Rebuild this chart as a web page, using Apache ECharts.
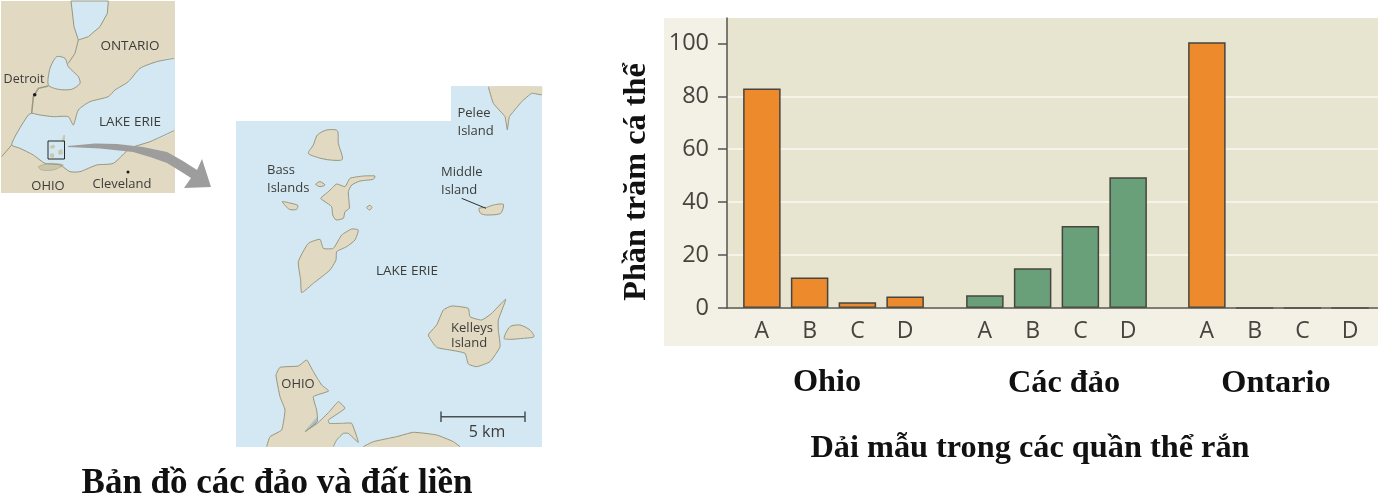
<!DOCTYPE html>
<html><head><meta charset="utf-8">
<style>html,body{margin:0;padding:0;background:#fff}#c{width:1378px;height:498px}</style>
<script src="https://cdn.jsdelivr.net/npm/echarts@6/dist/echarts.min.js"></script></head>
<body><div id="c"></div>
<script>
// ---- chart data ----
const bands = ['A', 'B', 'C', 'D'];
const ohioValues = [83, 11.5, 2.2, 4.3];
const islandValues = [4.8, 15, 31, 49.4];
const ontarioValues = [100.4, 0, 0, 0];
const yTickLabels = [0, 20, 40, 60, 80, 100];
const groupNames = ['Ohio', 'Các đảo', 'Ontario'];
const xTitle = 'Dải mẫu trong các quần thể rắn';
const yTitle = 'Phần trăm cá thể';
const mapTitle = 'Bản đồ các đảo và đất liền';

const ORANGE = '#ec8a2c', GREEN = '#69a07a', EDGE = '#474540', INK = '#45443f';
const UI = '"Open Sans","Noto Sans",sans-serif', SERIF = '"Liberation Serif","Times New Roman",serif';
const AX_MIN = 0, AX_MAX = 109.6;

// ---- map decoration helpers (points copied in 3x crop coordinates) ----
const WATER = '#d3e8f2', LAND = '#e1d9c1', SHORE = '#98977f';
const pts = (ox, oy, a) => { const r = []; for (let i = 0; i < a.length; i += 2) r.push([ox + a[i] / 3, oy + a[i + 1] / 3]); return r; };
const poly = (points, fill, stroke, lw, smooth) => ({ type: 'polygon', silent: true, z: 5, shape: { points, smooth: smooth == null ? 0.25 : smooth }, style: { fill, stroke: stroke || null, lineWidth: lw == null ? 1 : lw } });
const pline = (points, stroke, lw, smooth) => ({ type: 'polyline', silent: true, z: 6, shape: { points, smooth: smooth || 0 }, style: { fill: null, stroke, lineWidth: lw || 1 } });
const label = (x, y, text, size, align, color, font, weight) => ({ type: 'text', silent: true, z: 9, x, y, style: { text, fill: color || '#3c3c3a', font: (weight || 'normal') + ' ' + size + 'px ' + (font || UI), align: align || 'center', verticalAlign: 'middle' } });
const cover = (x, y, width, height) => ({ type: 'rect', silent: true, z: 7, shape: { x, y, width, height }, style: { fill: '#fff' } });
const z1 = (a) => pts(0, 0, a), z4 = (a) => pts(230, 80, a), z5 = (a) => pts(230, 260, a);
const erieShore = [522,175,470,185,420,205,385,245,345,270,325,290,270,305,235,330,220,375,205,350,160,350,120,345,95,340,85,345,65,375,45,410,35,435,60,445,100,465,135,490,180,495,210,515,240,515,290,495,340,490,390,445,450,425,522,392];
const ohioShore = [110,560,120,530,155,510,165,450,150,410,138,345,150,322,205,318,230,300,250,335,275,375,296,393,250,410,260,450,262,485,225,515,262,490,298,455,325,425,345,445,295,480,298,490,335,490,365,490,385,547,355,520,340,520,320,540,310,560];
const peleeShore = [775,20,790,70,825,110,832,150,838,110,850,95,875,65,905,40,936,45];
const southShore = [400,560,430,545,500,530,550,517,620,525,670,545,690,560];

const graphicEls = [
  { type: 'rect', silent: true, z: -10, shape: { x: 664, y: 18, width: 714, height: 328 }, style: { fill: '#f3f1e6' } },

  // small locator map
  { type: 'rect', silent: true, z: 4, shape: { x: 1, y: 1, width: 174, height: 192 }, style: { fill: LAND } },
  poly(z1([213,3,325,3,322,40,300,80,265,110,235,120,222,80]), WATER, SHORE, 1, 0),
  poly(z1([150,205,170,170,195,175,205,200,235,230,240,250,215,268,175,268,145,255]), WATER, SHORE, 1),
  poly(z1(erieShore), WATER, null, 0, 0.2),
  pline(z1(erieShore), SHORE, 1, 0.2),
  pline(z1([235,120,225,160,205,190]), SHORE, 1),
  pline(z1([145,258,115,265,100,290,95,340]), SHORE, 1.5),
  pline(z1([35,435,5,470]), SHORE, 1),
  poly(z1([115,500,150,490,190,495,160,510,125,510]), '#c9c8ac', SHORE, 0.5),
  poly(z1([185,425,190,405,195,405,195,425]), '#c9c8ac', null, 0, 0),
  poly(z1([150,438,162,434,165,442,154,446]), '#c9c8ac', null, 0),
  poly(z1([175,452,186,448,188,462,177,464]), '#c9c8ac', null, 0),
  poly(z1([150,462,160,460,162,472,152,472]), '#c9c8ac', null, 0),
  cover(175, 0, 30, 193),
  { type: 'rect', silent: true, z: 7, shape: { x: 48, y: 141, width: 16.5, height: 18 }, style: { fill: null, stroke: '#26282a', lineWidth: 1 } },
  { type: 'circle', silent: true, z: 7, shape: { cx: 34.7, cy: 94.7, r: 1.8 }, style: { fill: '#1c1c1c' } },
  { type: 'circle', silent: true, z: 7, shape: { cx: 128, cy: 172, r: 1.5 }, style: { fill: '#1c1c1c' } },
  label(130, 46, 'ONTARIO', 13.5), label(24, 79, 'Detroit', 12.5), label(130, 122, 'LAKE ERIE', 13.5),
  label(48, 186, 'OHIO', 13), label(122, 184, 'Cleveland', 13),

  // curved arrow
  Object.assign(poly([[68,146],[95,143.5],[117,144],[143,147],[167,152],[183,161],[197,170],[202,159],[211,187],[184,188],[191,178],[180,171],[167,163],[150,157],[133,152],[100,148.5],[68,147]], '#9d9d9d', null, 0, 0), { z: 8 }),

  // detail map
  poly([[236,121],[451,121],[451,86],[542,86],[542,447],[236,447]], WATER, null, 0, 0),
  poly(z4(peleeShore.concat([936,20])), LAND, null, 0, 0.1),
  pline(z4(peleeShore), SHORE, 1, 0.1),
  poly(z4([235,220,250,195,262,165,290,150,322,152,325,190,337,238,300,240,265,233]), LAND, SHORE, 1),
  poly(z4([272,355,295,335,320,312,345,320,360,295,400,288,435,288,430,298,390,303,365,315,355,335,358,385,345,395,340,415,318,420,308,405,305,380,285,365]), LAND, SHORE, 1, 0.15),
  poly(z4([257,313,270,305,285,315,270,320]), LAND, SHORE, 1),
  poly(z4([157,365,175,368,203,376,200,388,178,388]), LAND, SHORE, 1),
  poly(z4([410,382,420,376,426,383,418,390]), LAND, SHORE, 1),
  poly(z4([747,385,770,382,790,375,820,373,812,400,770,405,752,400]), LAND, SHORE, 1),
  poly(z4([205,545,235,490,270,478,280,505,310,505,335,465,365,447,385,450,375,480,350,500,320,515,318,540,300,570,250,610,215,638,212,600]), LAND, SHORE, 1, 0.15),
  poly(z5([595,225,620,195,640,150,665,138,715,145,720,170,755,180,785,160,827,118,805,180,805,210,810,260,780,305,740,320,715,312,705,280,660,270,620,262]), LAND, SHORE, 1, 0.15),
  poly(z5([822,235,840,200,870,195,900,210,912,230,880,235,840,238]), LAND, SHORE, 1),
  poly(z5(ohioShore), LAND, null, 0, 0.12),
  pline(z5(ohioShore), SHORE, 1, 0.12),
  poly(z5([225,512,262,470,262,488]), '#a9bfca', null, 0, 0),
  poly(z5(southShore), LAND, null, 0, 0.15),
  pline(z5(southShore), SHORE, 1, 0.15),
  cover(236, 447, 306, 8), cover(451, 78, 91, 8),
  Object.assign(pline(z4([695,355,768,385]), '#2e2e2e', 1), { z: 8 }),
  pline([[441,416.7],[525,416.7]], '#4a4f52', 1.5),
  pline([[441,411.5],[441,422]], '#4a4f52', 1.5),
  pline([[525,411.5],[525,422]], '#4a4f52', 1.5),
  label(487, 432, '5 km', 16),
  label(457.5, 113, 'Pelee', 13, 'left'), label(457.5, 131, 'Island', 13, 'left'),
  label(267, 170, 'Bass', 13, 'left'), label(267, 188, 'Islands', 13, 'left'),
  label(441, 172, 'Middle', 13, 'left'), label(441, 190, 'Island', 13, 'left'),
  label(407, 271, 'LAKE ERIE', 13.5),
  label(472, 328, 'Kelleys', 13), label(451, 343, 'Island', 13, 'left'),
  label(298, 384, 'OHIO', 13),

  // titles
  label(827, 383, groupNames[0], 32.3, 'center', '#111', SERIF, 'bold'),
  label(1064, 384, groupNames[1], 32.3, 'center', '#111', SERIF, 'bold'),
  label(1276, 384, groupNames[2], 32.3, 'center', '#111', SERIF, 'bold'),
  label(1030, 449, xTitle, 32.3, 'center', '#111', SERIF, 'bold'),
  label(277, 484, mapTitle, 35, 'center', '#111', SERIF, 'bold'),
  Object.assign(label(0, 0, yTitle, 32.3, 'center', '#111', SERIF, 'bold'), { x: 637, y: 182, rotation: Math.PI / 2 })
];

// ---- three band groups share one value scale ----
const groupGrid = (left) => ({ left, width: 191, top: 18, height: 290 });
const groupX = (gridIndex) => ({
  type: 'category', gridIndex, data: bands,
  axisLine: { show: false }, axisTick: { show: false },
  axisLabel: { color: INK, fontFamily: UI, fontSize: 23, margin: 12 }
});
const groupY = (gridIndex) => ({ type: 'value', gridIndex, min: AX_MIN, max: AX_MAX, show: false });
const barSeries = (xAxisIndex, values, color) => ({
  type: 'bar', xAxisIndex, yAxisIndex: xAxisIndex, data: values, barWidth: 37.5, z: 3,
  itemStyle: { color, borderColor: EDGE, borderWidth: 1.5 }
});

const chart = echarts.init(document.getElementById('c'), null, { renderer: 'canvas' });
chart.setOption({
  animation: false,
  backgroundColor: '#fff',
  tooltip: { show: false },
  graphic: { elements: graphicEls },
  grid: [
    { left: 727, right: 0, top: 18, height: 290, show: true, backgroundColor: '#e7e4cf', borderWidth: 0 },
    groupGrid(738), groupGrid(961), groupGrid(1183)
  ],
  xAxis: [
    { type: 'category', gridIndex: 0, data: [''], axisTick: { show: false }, axisLabel: { show: false },
      axisLine: { lineStyle: { color: '#55534c', width: 1.5 } }, z: 4 },
    groupX(1), groupX(2), groupX(3)
  ],
  yAxis: [
    { type: 'value', gridIndex: 0, min: AX_MIN, max: AX_MAX, interval: 10,
      axisLine: { show: true, lineStyle: { color: '#55534c', width: 1.5 } },
      axisTick: { show: true, length: 9, customValues: yTickLabels, lineStyle: { color: '#55534c', width: 1.5 } },
      axisLabel: { customValues: yTickLabels, color: INK, fontFamily: UI, fontSize: 23.5, margin: 18, padding: [5, 0, 0, 0] },
      splitLine: { show: true, showMaxLine: false, lineStyle: { color: '#f6f4ea', width: 2 } } },
    groupY(1), groupY(2), groupY(3)
  ],
  series: [
    barSeries(1, ohioValues, ORANGE),
    barSeries(2, islandValues, GREEN),
    barSeries(3, ontarioValues, ORANGE)
  ]
});
</script></body></html>
